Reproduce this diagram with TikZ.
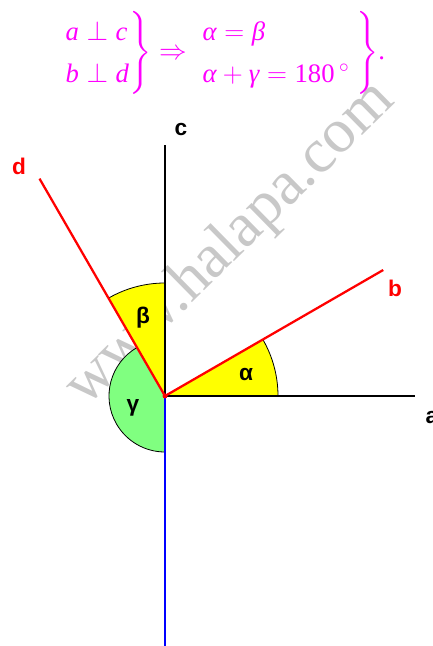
\documentclass[tikz,border=0pt]{standalone}
\usepackage{amsmath}
\usepackage{fontspec}
\setmainfont{Liberation Serif}
\newfontfamily\labelfont{Liberation Sans}
\usetikzlibrary{positioning}
\definecolor{rayred}{HTML}{FF0000}
\definecolor{rayblue}{HTML}{0000FF}
\definecolor{sunny}{HTML}{FFFF00}
\definecolor{leaf}{HTML}{80FF80}
\definecolor{pinkink}{HTML}{FF00FF}
\definecolor{stamp}{HTML}{C8C8C8}

\begin{document}
\begin{tikzpicture}[
  x=0.75pt, y=0.75pt,
  axis/.style={draw=black, line width=2pt},
  ray/.style={draw=rayred, line width=1.7pt},
  down/.style={draw=rayblue, line width=1.9pt},
  edge/.style={draw=black, line width=0.6pt},
  lbl/.style={font=\labelfont\bfseries\fontsize{17}{20}\selectfont, inner sep=0pt},
  thesis/.style={text=pinkink, inner sep=0pt, font=\fontsize{20}{24}\selectfont},
  watermark/.style={text=stamp, font=\fontsize{47}{50}\selectfont, inner sep=0pt,
               anchor=base, rotate=44.5},
]
\useasboundingbox (-165,-250) rectangle (267,396);

% watermark behind everything
\node[watermark] (stamp) at (76,141) {www.halapa.com};

\coordinate (O) at (0,0);
\coordinate (aEnd) at (250,0);
\coordinate (cEnd) at (0,251);
\coordinate (bEnd) at (30:252);
\coordinate (dEnd) at (120:251);
\coordinate (eEnd) at (0,-250);

% angle sectors
\fill[sunny] (O) -- (0:113) arc[start angle=0, end angle=30, radius=113] -- cycle;
\fill[sunny] (O) -- (90:113) arc[start angle=90, end angle=120, radius=113] -- cycle;
\fill[leaf] (O) -- (120:56) arc[start angle=120, end angle=270, radius=56] -- cycle;
\draw[edge] (0:113) arc[start angle=0, end angle=30, radius=113];
\draw[edge] (90:113) arc[start angle=90, end angle=120, radius=113];
\draw[edge] (120:56) arc[start angle=120, end angle=270, radius=56];

% the four lines
\draw[axis] (O) -- (aEnd);
\draw[axis] (O) -- (cEnd);
\draw[down] (O) -- (eEnd);
\foreach \e in {bEnd, dEnd}
  \draw[ray] (O) -- (\e);
\fill[rayred] (O) circle (2.5);

% labels
\node[lbl] (la) at (267,-22) {a};
\node[lbl, rayred] (lb) at (230,108) {b};
\node[lbl] (lc) at (16,266) {c};
\node[lbl, rayred] (ld) at (-146,230) {d};
\node[lbl] (alpha) at (81,21) {α};
\node[lbl] (beta) at (-22,78) {β};
\node[lbl] (gamma) at (-32,-12) {γ};

% the statement on top
\node[thesis] (rule) at (59.5,343)
  {\renewcommand{\arraystretch}{1.3}%
   $\left.\begin{array}{@{}l@{}}\textit{a}\perp\textit{c}\\ \textit{b}\perp\textit{d}\end{array}\right\}
    \Rightarrow
    \left.\begin{array}{l}\textit{α}=\textit{β}\\ \textit{α}+\textit{γ}=\text{180}\,^{\circ}\end{array}\right\}$.};

\end{tikzpicture}
\end{document}
